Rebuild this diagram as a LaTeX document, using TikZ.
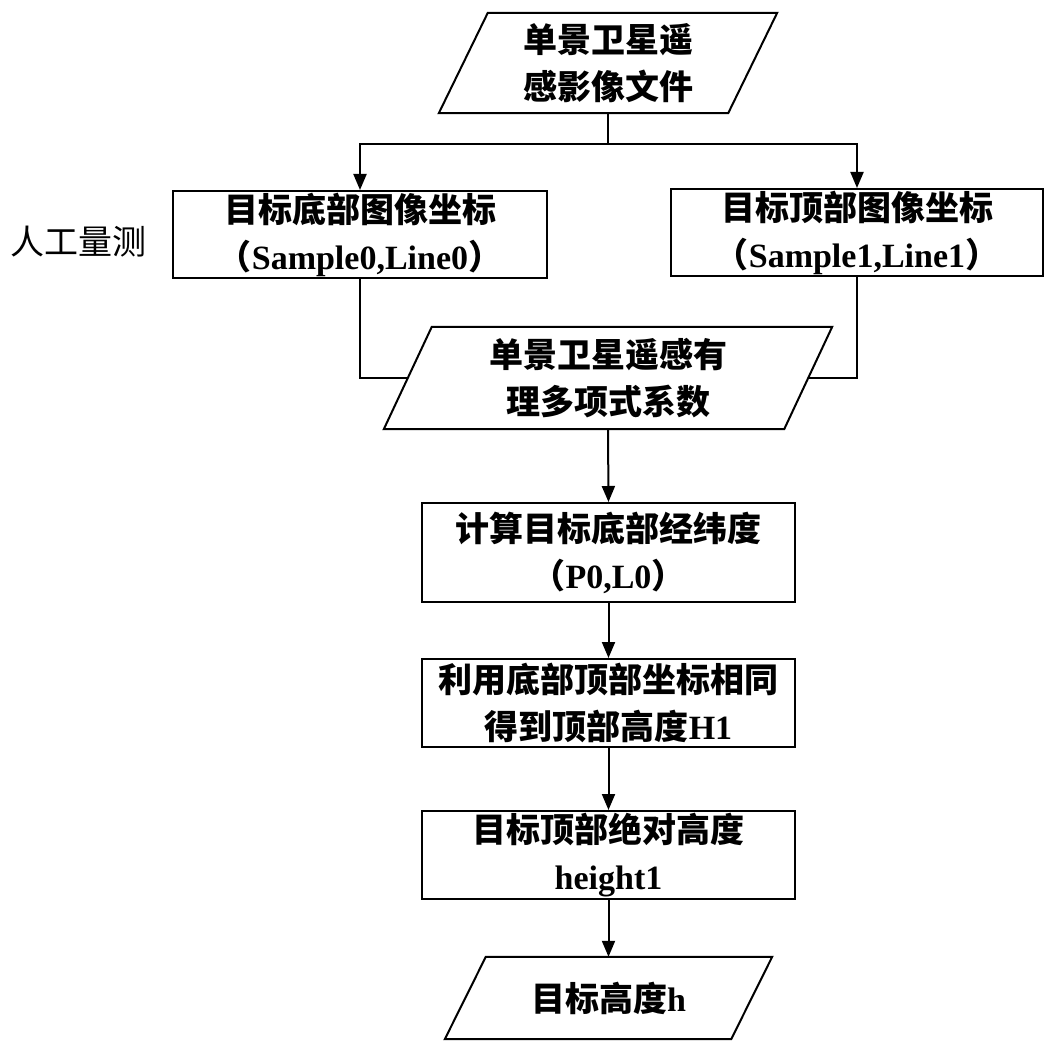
\documentclass[tikz,border=0pt]{standalone}
\usepackage{fontspec}
\setmainfont{Liberation Serif}
\newfontfamily\cjk{Noto Sans CJK SC}
\usetikzlibrary{arrows.meta,calc}
\newcommand\zh[1]{{\cjk\bfseries #1}}
\newcommand\drawpara[2]{%
  \draw[ln] ($(#1.north west)+(#2,0)$) -- ($(#1.north east)+(#2,0)$)
    -- ($(#1.south east)+(-#2,0)$) -- ($(#1.south west)+(-#2,0)$) -- cycle;}
\tikzset{
  txt/.style={align=center, inner sep=0pt, font=\fontsize{34}{47}\selectfont\bfseries},
  box/.style={txt, draw, line width=2pt},
  para/.style={txt},
  ln/.style={line width=2pt},
  arr/.style={line width=2pt, -{Triangle[length=16pt,width=13pt]}},
}
\begin{document}
\begin{tikzpicture}[x=1pt,y=-1pt]
\useasboundingbox (0,0) rectangle (1058,1054);
\fill[white] (0,0) rectangle (1058,1054);
% parallelograms
\node[para, minimum width=289pt, minimum height=100pt] (P1) at (608,63) {\zh{单景卫星遥}\\\zh{感影像文件}};
\drawpara{P1}{24.5}
\node[para, minimum width=400pt, minimum height=102pt] (P2) at (608,378) {\zh{单景卫星遥感有}\\\zh{理多项式系数}};
\drawpara{P2}{24}
\node[para, minimum width=286pt, minimum height=82pt] (P3) at (608.5,998) {\zh{目标高度}h};
\drawpara{P3}{20.5}
% boxes
\node[box, minimum width=374pt, minimum height=87pt] (L) at (360,234.5) {\zh{目标底部图像坐标}\\\zh{（}Sample0,Line0\zh{）}};
\node[box, minimum width=372pt, minimum height=87pt] (R) at (857,232.5) {\zh{目标顶部图像坐标}\\\zh{（}Sample1,Line1\zh{）}};
\node[box, minimum width=373pt, minimum height=99pt] (B3) at (608.5,552.5) {\zh{计算目标底部经纬度}\\\zh{（}P0,L0\zh{）}};
\node[box, minimum width=373pt, minimum height=88pt] (B4) at (608.5,703) {\zh{利用底部顶部坐标相同}\\\zh{得到顶部高度}H1};
\node[box, minimum width=373pt, minimum height=88pt] (B5) at (608.5,855) {\zh{目标顶部绝对高度}\\height1};
\node[anchor=west, inner sep=0pt, font=\cjk\fontsize{34}{40}\selectfont] (lbl) at (10,242) {人工量测};
% connectors
\coordinate (J) at (608,144);
\draw[ln] (P1.south) -- (J);
\draw[arr] (J) -| (L.north);
\draw[arr] (J) -| (R.north);
\draw[ln] (L.south) |- (P2.west);
\draw[ln] (R.south) |- (P2.east);
\draw[arr] (P2.south) -- (B3.north);
\draw[arr] (B3.south) -- (B4.north);
\draw[arr] (B4.south) -- (B5.north);
\draw[arr] (B5.south) -- (P3.north);
\end{tikzpicture}
\end{document}
